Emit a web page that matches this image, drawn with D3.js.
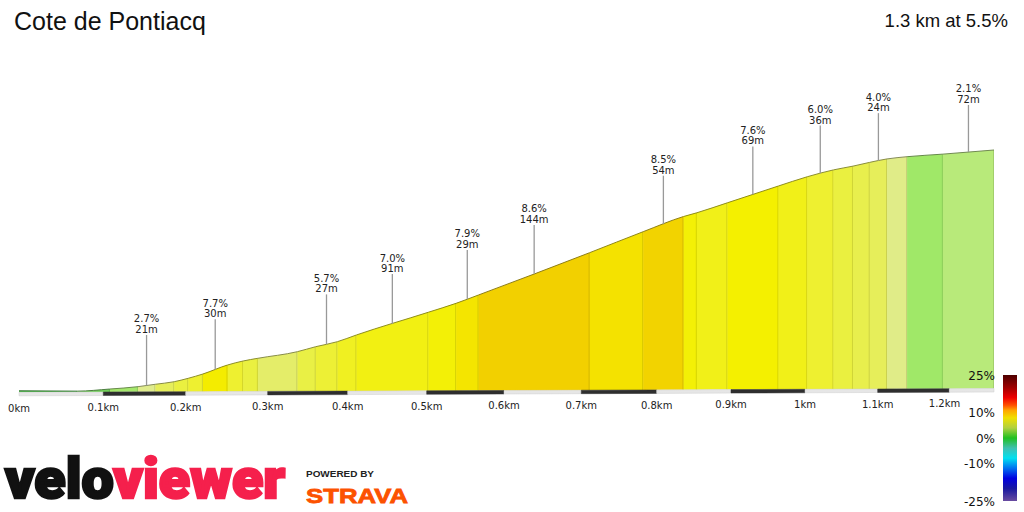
<!DOCTYPE html>
<html><head><meta charset="utf-8">
<script src="https://cdn.jsdelivr.net/npm/d3@7"></script>
<style>body{margin:0;background:#fff}svg{display:block}</style>
</head><body><svg id="c" width="1024" height="512"></svg>
<script>
// ---------- data ----------
const title = "Cote de Pontiacq";
const summary = "1.3 km at 5.5%";
// band boundaries along the climb (km)
const bandEdges = [0, 0.069, 0.108, 0.142, 0.163, 0.186, 0.203, 0.221, 0.251, 0.270, 0.288, 0.337, 0.360, 0.387, 0.411, 0.502, 0.538, 0.567, 0.711, 0.782, 0.836, 0.854, 0.895, 0.964, 1.003, 1.039, 1.066, 1.089, 1.113, 1.141, 1.191, 1.263];
// elevation (m, relative to the start) at each boundary
const elevations = [0.0, -0.1, 0.52, 1.2, 1.9, 2.65, 3.64, 4.9, 7.52, 8.69, 9.48, 11.4, 12.86, 14.31, 16.27, 22.89, 25.5, 27.93, 40.26, 46.38, 50.8, 51.9, 54.8, 59.7, 62.4, 64.4, 65.5, 66.6, 67.6, 68.25, 69.0, 70.2];
// gradient of each band (%)
const bandGrades = [0.2, 1.0, 1.7, 2.7, 4.0, 5.0, 6.0, 7.7, 6.0, 5.0, 3.6, 4.8, 5.7, 6.5, 7.0, 7.4, 7.9, 8.6, 8.0, 8.5, 7.4, 6.8, 7.6, 6.8, 6.0, 5.0, 4.5, 4.0, 2.8, 1.6, 2.1];
// bands that carry a gradient / length label
const labelledBands = [3, 7, 12, 14, 16, 17, 19, 22, 24, 27, 30];
// distance axis
const tickKm = [0, 0.1, 0.2, 0.3, 0.4, 0.5, 0.6, 0.7, 0.8, 0.9, 1.0, 1.1, 1.2];
const tickLabels = ["0km", "0.1km", "0.2km", "0.3km", "0.4km", "0.5km", "0.6km", "0.7km", "0.8km", "0.9km", "1km", "1.1km", "1.2km"];
// gradient legend
const legendTicks = [25, 10, 0, -10, -25];
const legendLabels = ["25%", "10%", "0%", "-10%", "-25%"];

// ---------- scales ----------
const svg = d3.select("#c");
const totalKm = bandEdges[bandEdges.length - 1];
// distance scale (the profile is drawn with slight perspective, so the km spacing shrinks to the right)
const x = d3.scaleLinear()
  .domain(tickKm.concat([totalKm]))
  .range([19, 103.3, 185.7, 267.7, 347.7, 426.7, 504, 581.3, 656.7, 731, 805, 877.7, 949.3, 994]);
const y = d3.scaleLinear().domain([0, 70]).range([390.8, 150.7]);
const yBase = d3.scaleLinear().domain([0, totalKm]).range([392.3, 388.5]);
const yTickLabel = d3.scaleLinear().domain([0, totalKm]).range([411.5, 407]);
const leaderLen = d3.scaleLinear().domain([0, totalKm]).range([51, 47]);

const fillColor = d3.scaleLinear()
  .domain([-25, -15, -8, -3, 0, 1, 1.6, 2.1, 2.7, 4, 5, 6, 7, 7.6, 8, 8.6, 10, 12, 15, 20, 25])
  .range(["#6a4ca0", "#0000e0", "#00e0f0", "#40c0b0", "#3cb43c", "#70d058", "#a0e868", "#b8ea7a", "#e0ec8c", "#e6ee5a", "#eaf040", "#eef030", "#f2f012", "#f4f000", "#f4e200", "#f2d000", "#f0a000", "#f06000", "#e00000", "#a00000", "#500000"])
  .clamp(true);
const legendColor = d3.scaleLinear()
  .domain([25, 20, 16, 13, 11, 8, 4, 0, -4, -8, -12, -16, -20, -25])
  .range(["#4d0000", "#a00000", "#ee0000", "#ff5000", "#ffa500", "#f0e000", "#b0d040", "#20c020", "#40c0b0", "#00e0f0", "#0070f0", "#0000e0", "#1818a0", "#6a4ca0"]);
const yLegend = d3.scaleLinear().domain([25, -25]).range([375, 501]);

const pts = bandEdges.map((d, i) => ({ d, e: elevations[i] }));
const bands = bandGrades.map((g, i) => ({ i, d0: bandEdges[i], d1: bandEdges[i + 1], e0: elevations[i], e1: elevations[i + 1], g }));

// ---------- titles ----------
svg.append("text").attr("x", 14).attr("y", 30)
  .attr("font-family", "'Liberation Sans', Arial, sans-serif").attr("font-size", 25).attr("fill", "#111")
  .text(title);
svg.append("text").attr("x", 1008).attr("y", 27).attr("text-anchor", "end")
  .attr("font-family", "'Liberation Sans', Arial, sans-serif").attr("font-size", 18.5).attr("fill", "#111")
  .text(summary);

// ---------- profile ----------
const area = d3.area().x(p => x(p.d)).y0(p => yBase(p.d)).y1(p => y(p.e)).curve(d3.curveMonotoneX);
const line = d3.line().x(p => x(p.d)).y(p => y(p.e)).curve(d3.curveMonotoneX);

const defs = svg.append("defs");
defs.append("clipPath").attr("id", "profileClip").append("path").attr("d", area(pts));

const gBands = svg.append("g").attr("clip-path", "url(#profileClip)");
gBands.selectAll("rect").data(bands).join("rect")
  .attr("x", b => x(b.d0)).attr("width", b => x(b.d1) - x(b.d0) + 0.4)
  .attr("y", 100).attr("height", 300)
  .attr("fill", b => fillColor(b.g));
// band dividers
gBands.selectAll("line").data(bands).join("line")
  .attr("x1", b => x(b.d1) - 0.5).attr("x2", b => x(b.d1) - 0.5)
  .attr("y1", b => yBase(b.d1)).attr("y2", b => y(b.e1) - 2)
  .attr("stroke", b => d3.color(fillColor(b.g)).darker(0.35))
  .attr("stroke-width", 1);

// outline, tinted by the band underneath
const profilePath = line(pts);
bands.forEach(b => {
  defs.append("clipPath").attr("id", "bandClip" + b.i).append("rect")
    .attr("x", x(b.d0)).attr("width", x(b.d1) - x(b.d0)).attr("y", 100).attr("height", 300);
  svg.append("path").attr("d", profilePath).attr("fill", "none")
    .attr("clip-path", `url(#bandClip${b.i})`)
    .attr("stroke", d3.interpolateRgb(fillColor(b.g), "#2a2a2a")(0.5))
    .attr("stroke-width", 1);
});

// ---------- distance bar ----------
const barSegs = tickKm.map((d, i) => ({ i, d0: d, d1: i < tickKm.length - 1 ? tickKm[i + 1] : totalKm }));
const barPath = s => {
  const a = [x(s.d0), yBase(s.d0)], b = [x(s.d1), yBase(s.d1)];
  return `M${a[0]},${a[1]}L${b[0]},${b[1]}L${b[0]},${b[1] + 3.5}L${a[0]},${a[1] + 3.5}Z`;
};
svg.append("g").selectAll("path").data(barSegs).join("path")
  .attr("d", barPath)
  .attr("fill", s => s.i % 2 ? "#2e2e2e" : "#e6e6e6")
  .attr("stroke", s => s.i % 2 ? "#2e2e2e" : "#cfcfcf").attr("stroke-width", 0.5);

// km labels
svg.append("g").selectAll("text").data(tickKm).join("text")
  .attr("x", (d, i) => Math.min(x(d), 960 - 15.5))
  .attr("y", d => yTickLabel(d))
  .attr("text-anchor", "middle")
  .attr("font-family", "'DejaVu Sans', sans-serif").attr("font-size", 10).attr("fill", "#222")
  .text((d, i) => tickLabels[i]);

// ---------- gradient labels ----------
const gLab = svg.append("g");
labelledBands.forEach(i => {
  const b = bands[i];
  const mid = (b.d0 + b.d1) / 2;
  const px = x(mid), py = y((b.e0 + b.e1) / 2);
  const top = py - leaderLen(mid);
  gLab.append("line").attr("x1", px).attr("x2", px).attr("y1", py).attr("y2", top)
    .attr("stroke", "#999").attr("stroke-width", 1.3);
  const t = gLab.append("text").attr("text-anchor", "middle")
    .attr("font-family", "'DejaVu Sans', sans-serif").attr("font-size", 10).attr("fill", "#222");
  t.append("tspan").attr("x", px).attr("y", top - 12.5).text(b.g.toFixed(1) + "%");
  t.append("tspan").attr("x", px).attr("y", top - 2).text(Math.round((b.d1 - b.d0) * 1000) + "m");
});

// ---------- legend ----------
const grad = defs.append("linearGradient").attr("id", "legendGrad")
  .attr("x1", 0).attr("y1", 0).attr("x2", 0).attr("y2", 1);
legendColor.domain().forEach(g => {
  grad.append("stop").attr("offset", (yLegend(g) - yLegend(25)) / (yLegend(-25) - yLegend(25)))
    .attr("stop-color", legendColor(g));
});
svg.append("rect").attr("x", 1003).attr("y", yLegend(25)).attr("width", 14)
  .attr("height", yLegend(-25) - yLegend(25)).attr("fill", "url(#legendGrad)");
svg.append("g").selectAll("text").data(legendTicks).join("text")
  .attr("x", 995).attr("y", d => Math.min(yLegend(d) + 4.5, 507))
  .attr("text-anchor", "end")
  .attr("font-family", "'DejaVu Sans', sans-serif").attr("font-size", 12).attr("fill", "#111")
  .text((d, i) => legendLabels[i]);

// ---------- branding ----------
const logo = svg.append("text").attr("x", 5).attr("y", 498)
  .attr("font-family", "Roboto, 'DejaVu Sans', sans-serif").attr("font-weight", 900)
  .attr("font-size", 56).attr("textLength", 280).attr("lengthAdjust", "spacingAndGlyphs");
logo.append("tspan").attr("fill", "#111").attr("stroke", "#111").attr("stroke-width", 2.5).text("velo");
logo.append("tspan").attr("fill", "#f5204c").attr("stroke", "#f5204c").attr("stroke-width", 2.5).text("viewer");
svg.append("text").attr("x", 306).attr("y", 477)
  .attr("font-family", "'Liberation Sans', Arial, sans-serif").attr("font-weight", 700)
  .attr("font-size", 9).attr("textLength", 68).attr("lengthAdjust", "spacingAndGlyphs")
  .attr("fill", "#222").text("POWERED BY");
svg.append("text").attr("x", 306).attr("y", 503)
  .attr("font-family", "'Liberation Sans', Arial, sans-serif").attr("font-weight", 900)
  .attr("font-size", 21).attr("textLength", 102).attr("lengthAdjust", "spacingAndGlyphs")
  .attr("fill", "#fc5200").attr("stroke", "#fc5200").attr("stroke-width", 0.8).text("STRAVA");
</script>
</body></html>
